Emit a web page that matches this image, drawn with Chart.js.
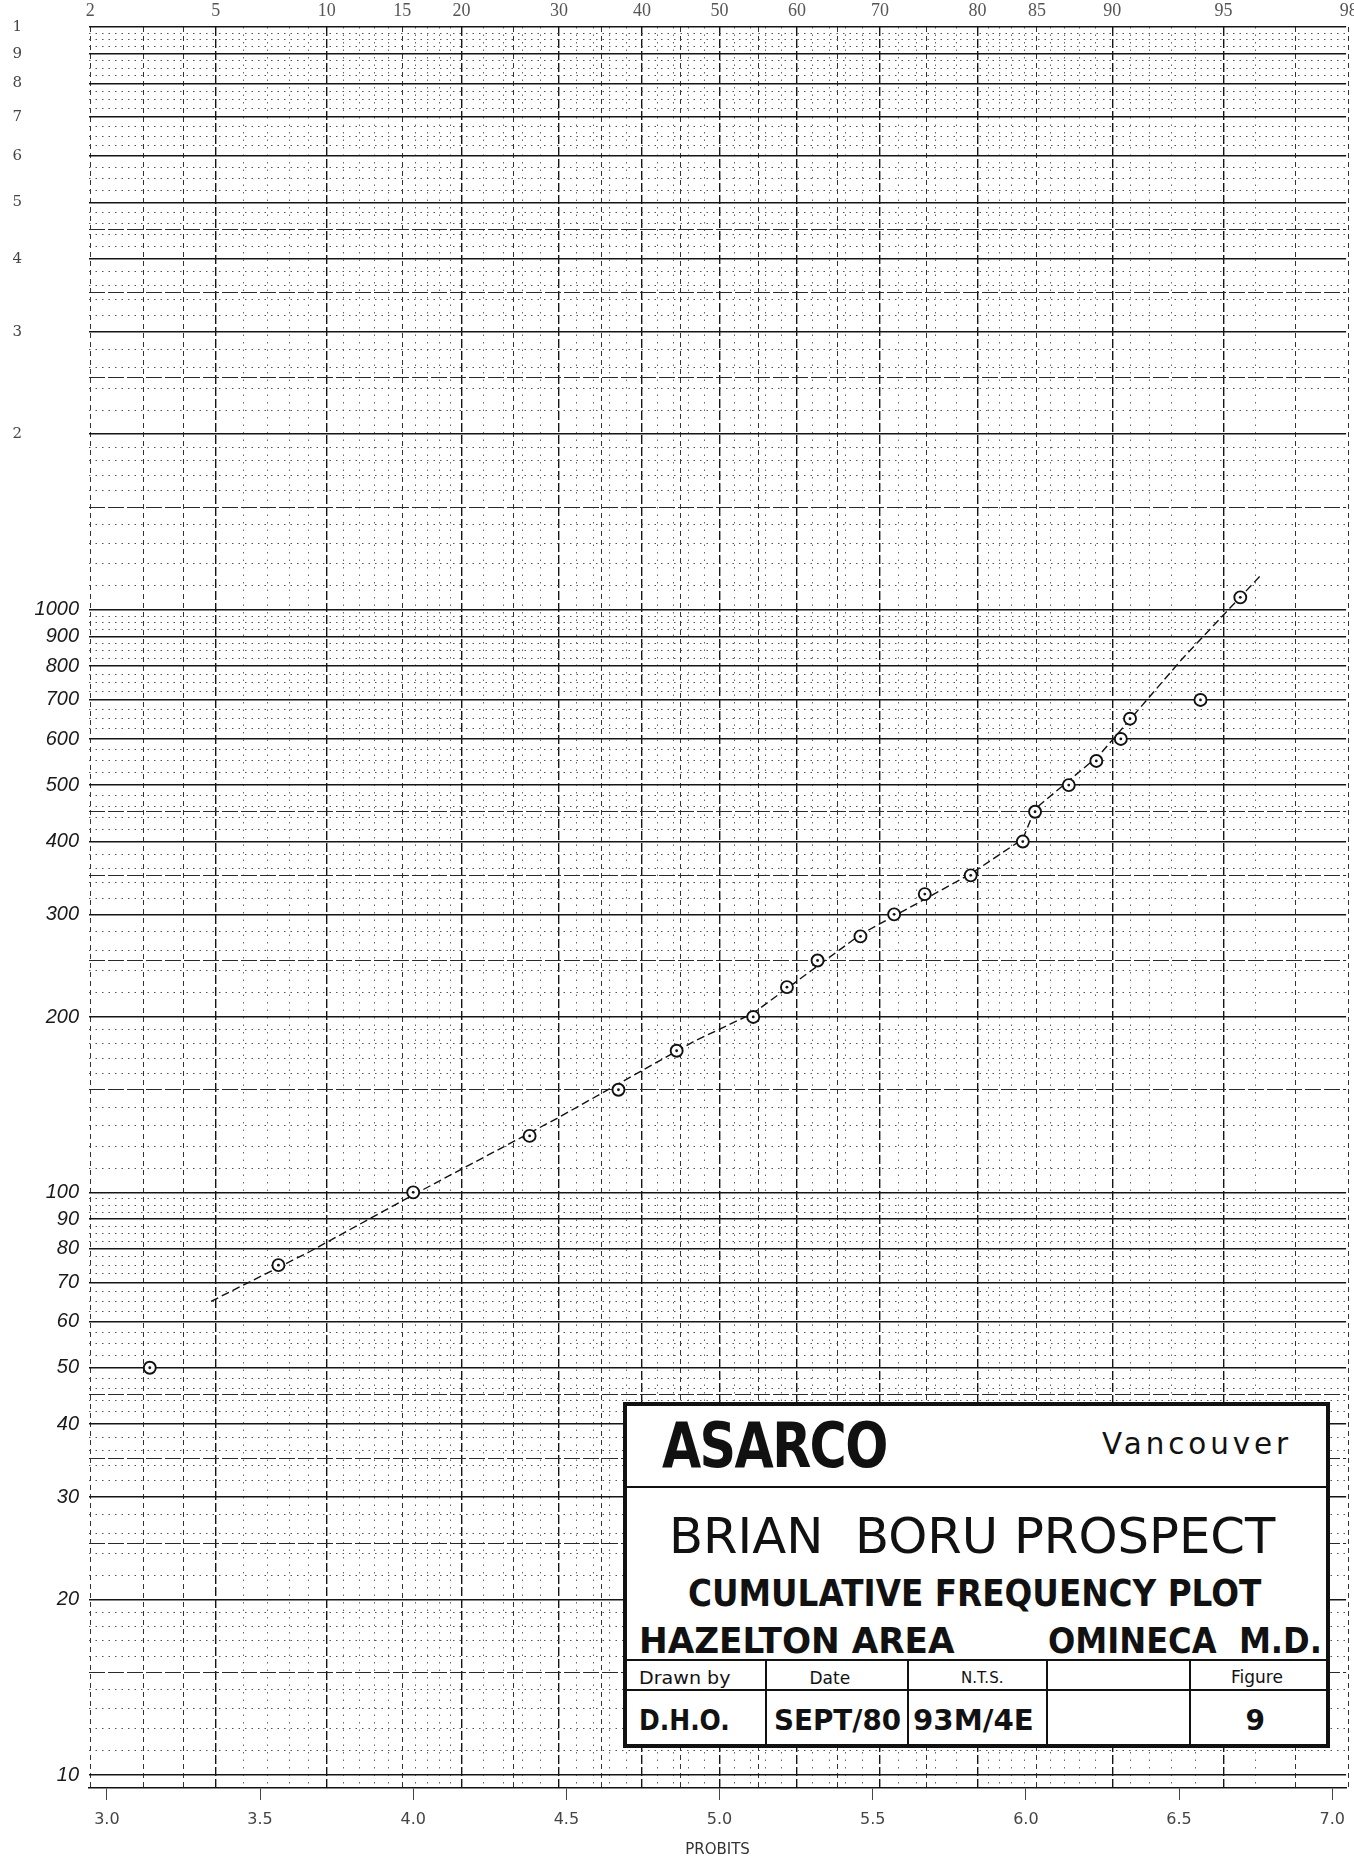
<!DOCTYPE html>
<html>
<head>
<meta charset="utf-8">
<title>Brian Boru Prospect - Cumulative Frequency Plot</title>
<script src="https://cdn.jsdelivr.net/npm/chart.js@4.4.1/dist/chart.umd.min.js"></script>
<style>
  html, body { margin: 0; padding: 0; background: #fff; }
  #wrap { position: relative; width: 1354px; height: 1863px; overflow: hidden; }
  #plot { position: absolute; left: 0; top: 0; }
  #titleBlock { position: absolute; left: 623px; top: 1402px; width: 707px; height: 346px;
    box-sizing: border-box; border: 4px solid #111; background: #fff;
    font-family: "DejaVu Sans", sans-serif; color: #111; }
  #titleBlock .t { position: absolute; white-space: nowrap; line-height: 1; transform-origin: 0 50%; }
  #titleBlock .hl { position: absolute; left: 0; right: 0; height: 0; border-top: 2px solid #111; }
  #titleBlock .vl { position: absolute; top: 254px; bottom: 0; width: 0; border-left: 2px solid #111; }
</style>
</head>
<body>
<div id="wrap">
  <canvas id="plot" width="1354" height="1863"></canvas>
  <div id="titleBlock">
    <div class="t" data-x="35" data-cy="40" data-w="225" style="font-size:62px;font-weight:bold;letter-spacing:-2px;">ASARCO</div>
    <div class="t" data-x="475" data-cy="38" data-w="190" style="font-size:30px;letter-spacing:4px;">Vancouver</div>
    <div class="hl" style="top:80px"></div>
    <div class="t" data-x="42" data-cy="130" data-w="606" style="font-size:50px;">BRIAN&nbsp; BORU&nbsp;PROSPECT</div>
    <div class="t" data-x="61" data-cy="187" data-w="573" style="font-size:38px;font-weight:bold;">CUMULATIVE FREQUENCY PLOT</div>
    <div class="t" data-x="12" data-cy="235" data-w="316" style="font-size:36px;font-weight:bold;">HAZELTON AREA</div>
    <div class="t" data-x="421" data-cy="235" data-w="274" style="font-size:36px;font-weight:bold;">OMINECA&nbsp; M.D.</div>
    <div class="hl" style="top:253px"></div>
    <div class="hl" style="top:283px"></div>
    <div class="vl" style="left:138px"></div>
    <div class="vl" style="left:280px"></div>
    <div class="vl" style="left:419px"></div>
    <div class="vl" style="left:562px"></div>
    <div class="t" data-x="12" data-cy="272" data-w="91" style="font-size:17px;">Drawn by</div>
    <div class="t" data-cx="203" data-cy="272" style="font-size:17px;">Date</div>
    <div class="t" data-cx="355" data-cy="272" style="font-size:15px;">N.T.S.</div>
    <div class="t" data-cx="630" data-cy="271" style="font-size:17px;">Figure</div>
    <div class="t" data-x="12" data-cy="315" data-w="91" style="font-size:28px;font-weight:bold;">D.H.O.</div>
    <div class="t" data-x="147" data-cy="315" data-w="127" style="font-size:28px;font-weight:bold;">SEPT/80</div>
    <div class="t" data-x="286" data-cy="315" data-w="121" style="font-size:28px;font-weight:bold;">93M/4E</div>
    <div class="t" data-cx="628" data-cy="315" style="font-size:28px;font-weight:bold;">9</div>
  </div>
</div>
<script>
// sample points: probit of the cumulative frequency vs threshold value
const pointProbit = [3.14, 3.56, 4.00, 4.38, 4.67, 4.86, 5.11, 5.22, 5.32, 5.46, 5.57,
                     5.67, 5.82, 5.99, 6.03, 6.14, 6.23, 6.31, 6.34, 6.57, 6.70];
const pointValue  = [50, 75, 100, 125, 150, 175, 200, 225, 250, 275, 300,
                     325, 350, 400, 450, 500, 550, 600, 650, 700, 1050];

// hand drawn curve through the points
const fitProbit = [3.34, 3.66, 4.00, 4.47, 4.92, 5.11, 5.46, 5.82, 5.99, 6.03, 6.24, 6.51, 6.77];
const fitValue  = [65, 79, 99, 134, 182, 203, 277, 352, 404, 455, 563, 823, 1150];

// bottom axis
const probitTicks = [3.0, 3.5, 4.0, 4.5, 5.0, 5.5, 6.0, 6.5, 7.0];

// top axis: ruled percent lines of the probability paper and their probits
const pctLines = [2, 3, 4, 5, 6, 7, 8, 9, 10, 11, 12, 13, 14, 15, 16, 17, 18, 19, 20,
                  22, 24, 25, 26, 28, 30, 32, 34, 35, 36, 38, 40, 42, 44, 45, 46, 48, 50,
                  52, 54, 55, 56, 58, 60, 62, 64, 65, 66, 68, 70, 72, 74, 75, 76, 78, 80,
                  81, 82, 83, 84, 85, 86, 87, 88, 89, 90, 91, 92, 93, 94, 95, 96, 97, 98];
const pctProbits = [2.946, 3.119, 3.249, 3.355, 3.445, 3.524, 3.595, 3.659, 3.718, 3.773,
                    3.825, 3.874, 3.920, 3.964, 4.006, 4.046, 4.085, 4.122, 4.158,
                    4.228, 4.294, 4.326, 4.357, 4.417, 4.476, 4.532, 4.588, 4.615, 4.641,
                    4.695, 4.747, 4.798, 4.849, 4.874, 4.900, 4.950, 5.000,
                    5.050, 5.100, 5.126, 5.151, 5.202, 5.253, 5.305, 5.358, 5.385, 5.412,
                    5.468, 5.524, 5.583, 5.643, 5.674, 5.706, 5.772, 5.842,
                    5.878, 5.915, 5.954, 5.994, 6.036, 6.080, 6.126, 6.175, 6.227, 6.282,
                    6.341, 6.405, 6.476, 6.555, 6.645, 6.751, 6.881, 7.054];
const pctLabels = [2, 5, 10, 15, 20, 30, 40, 50, 60, 70, 80, 85, 90, 95, 98];
const pctHeavy  = [5, 10, 20, 30, 40, 50, 60, 70, 80, 90, 95];
const pctMid    = [2, 3, 4, 15, 25, 35, 45, 55, 65, 75, 85, 97, 98];

// left axis labels
const yLabels    = [10, 20, 30, 40, 50, 60, 70, 80, 90, 100, 200, 300, 400, 500, 600, 700, 800, 900, 1000];
const yTopValues = [2000, 3000, 4000, 5000, 6000, 7000, 8000, 9000, 10000];
const yTopLabels = ['2', '3', '4', '5', '6', '7', '8', '9', '1'];

const X_MIN = 2.9416, X_MAX = 7.0454;
const Y_MIN = 9.5, Y_MAX = 10000;

// log paper rulings: solid on 1..9, light solid on x.5, dotted in between
const yGrid = [];
[10, 100, 1000].forEach(dec => {
  for (let m = 1; m < 10; m++) yGrid.push({ value: m * dec, kind: 'major' });
  for (let k = 1; k < 10; k++) yGrid.push({ value: (10 + k) * dec / 10, kind: k === 5 ? 'mid' : 'minor' });
  for (let m = 2; m < 5; m++) {
    [0.2, 0.4, 0.6, 0.8].forEach(f => yGrid.push({ value: (m + f) * dec, kind: 'minor' }));
    yGrid.push({ value: (m + 0.5) * dec, kind: 'mid' });
  }
  for (let m = 5; m < 10; m++) {
    [0.25, 0.5, 0.75].forEach(f => yGrid.push({ value: (m + f) * dec, kind: 'minor' }));
  }
});
yGrid.push({ value: 10000, kind: 'major' });
yGrid.forEach(t => {
  const lab = yLabels.find(v => Math.abs(v - t.value) < 1e-6);
  t.txt = (lab !== undefined && t.kind === 'major') ? String(lab) : '';
});

const xGrid = pctLines.map((p, i) => ({
  value: pctProbits[i], pct: p,
  kind: pctHeavy.includes(p) ? 'major' : (pctMid.includes(p) ? 'mid' : 'minor'),
  txt: pctLabels.includes(p) ? String(p) : ''
}));

const hStyle = { major: ['#151515', 1.6, []], mid: ['#2a2a2a', 1, [16, 3]], minor: ['#555', 1, [1.5, 5]] };
const vStyle = { major: ['#151515', 1.4, [9, 3]], mid: ['#333', 1, [5, 4]], minor: ['#666', 1, [1.5, 6]] };

const pts = pointProbit.map((p, i) => ({ x: p, y: pointValue[i] }));
const fit = fitProbit.map((p, i) => ({ x: p, y: fitValue[i] }));

const noPad = s => { s.paddingLeft = 0; s.paddingRight = 0; s.paddingTop = 0; s.paddingBottom = 0; };

const chart = new Chart(document.getElementById('plot').getContext('2d'), {
  type: 'scatter',
  data: {
    datasets: [{
      label: 'Curve',
      data: fit,
      showLine: true,
      borderColor: '#111',
      borderWidth: 1.4,
      borderDash: [8, 4],
      pointRadius: 0,
      tension: 0,
      order: 3
    }, {
      label: 'Samples',
      data: pts,
      pointRadius: 6,
      pointBorderWidth: 1.9,
      pointBorderColor: '#111',
      pointBackgroundColor: '#fff',
      order: 2
    }, {
      label: 'Centres',
      data: pts,
      pointRadius: 1.4,
      pointBorderWidth: 0,
      pointBackgroundColor: '#111',
      order: 1
    }]
  },
  options: {
    responsive: false,
    animation: false,
    devicePixelRatio: 1,
    layout: { padding: 0 },
    plugins: { legend: { display: false }, tooltip: { enabled: false } },
    scales: {
      x: {
        type: 'linear', position: 'bottom', min: X_MIN, max: X_MAX, bounds: 'data',
        afterBuildTicks: s => { s.ticks = probitTicks.map(v => ({ value: v })); },
        afterFit: s => { s.height = 75; noPad(s); },
        ticks: {
          autoSkip: false, maxRotation: 0, padding: 10, color: '#444',
          font: { family: 'DejaVu Sans', size: 16 },
          callback: v => v.toFixed(1)
        },
        grid: { drawOnChartArea: false, drawTicks: true, tickLength: 12, tickColor: '#444', tickWidth: 1 },
        border: { display: true, color: '#111', width: 1.6 },
        title: { display: true, text: 'PROBITS', color: '#333', font: { family: 'DejaVu Sans', size: 15 }, padding: { top: 0, bottom: 4 } }
      },
      xTop: {
        type: 'linear', position: 'top', min: X_MIN, max: X_MAX, bounds: 'data',
        afterBuildTicks: s => { s.ticks = xGrid.map(t => Object.assign({}, t)); },
        afterFit: s => { s.height = 27; noPad(s); },
        ticks: {
          autoSkip: false, maxRotation: 0, padding: 5, color: '#555',
          font: { family: 'Liberation Serif', size: 18 },
          callback: (v, i, t) => t[i].txt
        },
        grid: {
          drawTicks: false,
          color: c => vStyle[c.tick.kind][0],
          lineWidth: c => vStyle[c.tick.kind][1]
        },
        border: { display: false, dash: c => (c.tick ? vStyle[c.tick.kind][2] : []) }
      },
      y: {
        type: 'logarithmic', position: 'left', weight: 0, min: Y_MIN, max: Y_MAX, bounds: 'data',
        afterBuildTicks: s => { s.ticks = yGrid.map(t => Object.assign({}, t)); },
        afterFit: s => { s.width = 59; noPad(s); },
        ticks: {
          autoSkip: false, padding: 10, color: '#1a1a1a',
          font: { family: 'Liberation Sans', size: 20, style: 'italic' },
          callback: (v, i, t) => t[i].txt
        },
        grid: {
          drawTicks: false,
          color: c => hStyle[c.tick.kind][0],
          lineWidth: c => hStyle[c.tick.kind][1]
        },
        border: { display: false, dash: c => (c.tick ? hStyle[c.tick.kind][2] : []) }
      },
      yTop: {
        type: 'logarithmic', position: 'left', weight: 1, min: Y_MIN, max: Y_MAX, bounds: 'data',
        afterBuildTicks: s => { s.ticks = yTopValues.map((v, i) => ({ value: v, txt: yTopLabels[i] })); },
        afterFit: s => { s.width = 30; noPad(s); },
        ticks: {
          autoSkip: false, padding: 8, color: '#444',
          font: { family: 'DejaVu Serif', size: 15 },
          callback: (v, i, t) => t[i].txt
        },
        grid: { display: false, drawTicks: false },
        border: { display: false }
      }
    }
  }
});

// lettering of the title block: place each text and squeeze it to the drawn width
function placeLettering() {
  document.querySelectorAll('#titleBlock .t').forEach(el => {
    el.style.transform = 'none';
    const w = el.offsetWidth, h = el.offsetHeight;
    const sx = el.dataset.w ? el.dataset.w / w : 1;
    const left = el.dataset.cx !== undefined ? el.dataset.cx - w / 2 : +el.dataset.x;
    el.style.left = left + 'px';
    el.style.top = (el.dataset.cy - h / 2) + 'px';
    el.style.transform = 'scaleX(' + sx + ')';
  });
}
placeLettering();
if (document.fonts) document.fonts.ready.then(placeLettering);
</script>
</body>
</html>
